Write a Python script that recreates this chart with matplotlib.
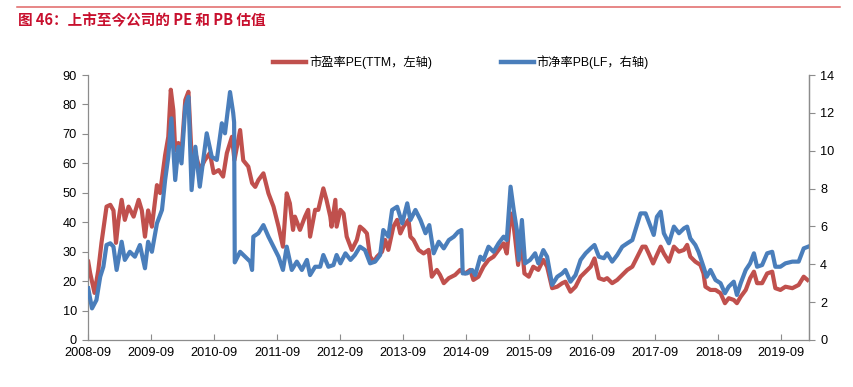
import matplotlib
matplotlib.use("Agg")
import matplotlib.pyplot as plt
from matplotlib.lines import Line2D
import pandas as pd

plt.rcParams['font.family'] = ['Liberation Sans', 'Noto Sans CJK SC', 'DejaVu Sans']

# 市盈率 PE(TTM) — 时间为小数年
pe_t = [2008.67, 2008.70, 2008.77, 2008.83, 2008.88, 2008.96, 2009.02, 2009.07, 2009.11, 2009.15,
        2009.20, 2009.25, 2009.31, 2009.39, 2009.47, 2009.52, 2009.57, 2009.62, 2009.68, 2009.76,
        2009.81, 2009.89, 2009.94, 2009.98, 2010.02, 2010.05, 2010.10, 2010.15, 2010.21, 2010.26,
        2010.31, 2010.37, 2010.44, 2010.52, 2010.60, 2010.66, 2010.74, 2010.81, 2010.87, 2010.95,
        2010.99, 2011.08, 2011.13, 2011.21, 2011.27, 2011.32, 2011.37, 2011.45, 2011.53, 2011.61,
        2011.69, 2011.76, 2011.82, 2011.87, 2011.92, 2011.95, 2012.03, 2012.11, 2012.16, 2012.19,
        2012.27, 2012.32, 2012.40, 2012.45, 2012.51, 2012.53, 2012.59, 2012.61, 2012.67, 2012.72,
        2012.77, 2012.85, 2012.93, 2012.98, 2013.04, 2013.09, 2013.14, 2013.20, 2013.25, 2013.33,
        2013.38, 2013.43, 2013.51, 2013.57, 2013.62, 2013.67, 2013.75, 2013.78, 2013.83, 2013.91,
        2013.99, 2014.07, 2014.12, 2014.20, 2014.25, 2014.31, 2014.39, 2014.49, 2014.57, 2014.65,
        2014.73, 2014.78, 2014.86, 2014.94, 2015.02, 2015.10, 2015.18, 2015.26, 2015.31, 2015.37,
        2015.40, 2015.44, 2015.49, 2015.54, 2015.59, 2015.66, 2015.73, 2015.81, 2015.89, 2015.95,
        2016.03, 2016.11, 2016.19, 2016.24, 2016.32, 2016.40, 2016.48, 2016.56, 2016.64, 2016.70,
        2016.77, 2016.85, 2016.90, 2016.98, 2017.06, 2017.14, 2017.22, 2017.30, 2017.38, 2017.46,
        2017.51, 2017.56, 2017.63, 2017.69, 2017.75, 2017.80, 2017.88, 2017.96, 2018.04, 2018.12,
        2018.17, 2018.22, 2018.30, 2018.38, 2018.43, 2018.46, 2018.54, 2018.62, 2018.70, 2018.77,
        2018.83, 2018.91, 2018.96, 2019.02, 2019.10, 2019.17, 2019.23, 2019.28, 2019.36, 2019.44,
        2019.52, 2019.57, 2019.65, 2019.73, 2019.84, 2019.94, 2020.02, 2020.08]
pe = [26.6, 22.8, 16.0, 23.8, 33.0, 45.3, 45.9, 44.0, 33.0, 40.8,
      47.6, 40.8, 45.3, 41.9, 47.6, 44.0, 35.1, 44.0, 38.5, 52.6,
      49.9, 62.8, 69.0, 85.0, 78.0, 64.5, 66.9, 63.5, 81.5, 84.3,
      62.3, 63.5, 57.7, 61.1, 63.5, 56.7, 57.7, 55.5, 63.5, 69.0,
      61.1, 71.3, 61.0, 58.9, 53.3, 52.0, 54.3, 56.6, 49.8, 45.3,
      38.5, 31.7, 49.8, 46.4, 37.4, 41.9, 37.4, 41.9, 44.2, 35.1,
      44.2, 44.2, 51.5, 47.6, 41.9, 38.5, 47.6, 38.5, 44.2, 43.0,
      35.1, 30.6, 34.0, 38.5, 37.4, 36.2, 28.3, 26.6, 28.3, 30.0,
      34.0, 30.6, 38.5, 40.8, 36.2, 38.5, 40.8, 35.1, 34.0, 30.6,
      29.4, 30.6, 21.5, 23.8, 22.1, 19.3, 21.0, 22.1, 23.8, 22.6,
      23.8, 20.4, 21.5, 24.9, 27.2, 28.3, 30.6, 32.8, 29.4, 43.0,
      41.9, 35.1, 25.5, 34.0, 22.6, 21.5, 24.9, 23.8, 27.2, 24.9,
      17.6, 18.1, 19.3, 19.8, 16.4, 18.1, 21.5, 23.2, 24.9, 27.7,
      21.0, 20.4, 21.0, 19.3, 20.4, 22.1, 23.8, 24.9, 28.3, 31.7,
      31.7, 29.4, 26.0, 28.9, 31.7, 29.4, 26.6, 31.7, 30.0, 30.6,
      32.3, 28.3, 26.6, 25.5, 22.6, 18.1, 17.0, 17.0, 15.9, 12.5,
      14.2, 13.6, 12.5, 14.7, 17.0, 21.0, 23.2, 19.3, 19.3, 22.6,
      23.2, 17.6, 17.0, 18.1, 17.6, 18.7, 21.5, 20.4]

# 市净率 PB(LF)
pb_t = [2008.67, 2008.73, 2008.80, 2008.86, 2008.91, 2008.96, 2009.02, 2009.07, 2009.12, 2009.20,
        2009.25, 2009.33, 2009.41, 2009.49, 2009.57, 2009.62, 2009.68, 2009.76, 2009.84, 2009.89,
        2009.94, 2009.99, 2010.05, 2010.10, 2010.15, 2010.21, 2010.26, 2010.31, 2010.37, 2010.44,
        2010.55, 2010.63, 2010.71, 2010.79, 2010.84, 2010.92, 2010.97, 2010.985, 2010.995, 2011.08,
        2011.16, 2011.24, 2011.27, 2011.29, 2011.37, 2011.45, 2011.53, 2011.61, 2011.69, 2011.76,
        2011.82, 2011.90, 2011.98, 2012.06, 2012.14, 2012.19, 2012.27, 2012.35, 2012.40, 2012.48,
        2012.56, 2012.61, 2012.67, 2012.75, 2012.83, 2012.90, 2012.98, 2013.06, 2013.14, 2013.22,
        2013.30, 2013.35, 2013.43, 2013.49, 2013.57, 2013.65, 2013.73, 2013.78, 2013.86, 2013.94,
        2014.02, 2014.08, 2014.15, 2014.23, 2014.31, 2014.39, 2014.47, 2014.54, 2014.59, 2014.61,
        2014.68, 2014.76, 2014.81, 2014.89, 2014.94, 2015.02, 2015.10, 2015.18, 2015.26, 2015.31,
        2015.37, 2015.42, 2015.47, 2015.50, 2015.55, 2015.60, 2015.68, 2015.76, 2015.81, 2015.89,
        2015.95, 2016.03, 2016.11, 2016.19, 2016.24, 2016.32, 2016.40, 2016.48, 2016.56, 2016.64,
        2016.70, 2016.77, 2016.85, 2016.90, 2016.98, 2017.06, 2017.14, 2017.22, 2017.30, 2017.38,
        2017.43, 2017.51, 2017.59, 2017.64, 2017.69, 2017.75, 2017.80, 2017.88, 2017.96, 2018.04,
        2018.12, 2018.17, 2018.22, 2018.30, 2018.35, 2018.43, 2018.48, 2018.54, 2018.62, 2018.70,
        2018.77, 2018.83, 2018.91, 2018.96, 2019.02, 2019.10, 2019.17, 2019.23, 2019.28, 2019.36,
        2019.44, 2019.52, 2019.57, 2019.65, 2019.73, 2019.84, 2019.94, 2020.02, 2020.09]
pb = [2.73, 1.67, 2.11, 3.34, 3.87, 5.02, 5.11, 4.93, 3.70, 5.19,
      4.23, 4.66, 4.40, 5.02, 3.79, 5.19, 4.66, 6.16, 6.87, 8.45,
      9.68, 11.71, 8.45, 10.21, 9.33, 12.32, 12.85, 7.92, 10.21, 8.10,
      10.92, 9.68, 9.51, 11.45, 10.92, 13.10, 12.00, 11.50, 4.10, 4.66,
      4.40, 4.14, 3.70, 5.46, 5.64, 6.07, 5.46, 4.93, 4.40, 3.70,
      4.93, 3.70, 4.14, 3.70, 4.23, 3.43, 3.87, 3.87, 4.49, 3.87,
      3.96, 4.49, 4.05, 4.58, 4.23, 4.49, 4.93, 4.75, 4.05, 4.14,
      4.49, 5.81, 5.46, 6.87, 7.04, 6.16, 7.22, 6.34, 6.87, 6.34,
      5.64, 6.07, 4.58, 5.19, 4.84, 5.28, 5.46, 5.72, 5.81, 3.52,
      3.52, 3.70, 3.43, 4.40, 4.23, 4.93, 4.66, 5.11, 5.46, 5.28,
      8.10, 6.87, 5.81, 4.23, 6.34, 4.05, 4.23, 4.58, 4.05, 4.75,
      4.40, 2.91, 3.34, 3.52, 3.70, 3.08, 3.43, 4.23, 4.58, 4.84,
      5.02, 4.40, 4.32, 4.58, 4.14, 4.49, 4.93, 5.11, 5.28, 6.16,
      6.69, 6.69, 5.99, 5.55, 6.51, 6.78, 5.64, 5.11, 5.99, 5.64,
      5.90, 5.99, 5.37, 5.02, 4.66, 3.87, 3.34, 3.70, 3.17, 3.00,
      2.47, 2.82, 3.08, 2.38, 3.00, 3.70, 4.05, 4.58, 3.87, 3.96,
      4.58, 4.66, 3.87, 3.87, 4.05, 4.14, 4.14, 4.84, 4.93]

tick_labels = ['2008-09', '2009-09', '2010-09', '2011-09', '2012-09', '2013-09',
               '2014-09', '2015-09', '2016-09', '2017-09', '2018-09', '2019-09']


def to_date(years):
    out = []
    for y in years:
        yr = int(y)
        start = pd.Timestamp(yr, 1, 1)
        end = pd.Timestamp(yr + 1, 1, 1)
        out.append(start + (end - start) * (y - yr))
    return out


red = '#C0504D'
blue = '#4A7EBB'
grey = '#8C8C8C'

fig = plt.figure(figsize=(8.54, 3.87), dpi=100)
ax = fig.add_axes([88 / 854, 1 - 340 / 387, (809 - 88) / 854, (340 - 75) / 387])
ax2 = ax.twinx()

ax.plot(to_date(pe_t), pe, color=red, lw=3.0, solid_joinstyle='round')
ax2.plot(to_date(pb_t), pb, color=blue, lw=3.0, solid_joinstyle='round')

ax.set_ylim(0, 90)
ax.set_yticks(range(0, 91, 10))
ax2.set_ylim(0, 14)
ax2.set_yticks(range(0, 15, 2))

ticks = [pd.Timestamp(t + '-01') for t in tick_labels]
ax.set_xlim(pd.Timestamp('2008-09-01'), pd.Timestamp('2020-02-08'))
ax.set_xticks(ticks)
ax.set_xticklabels(tick_labels)

for a in (ax, ax2):
    a.spines['top'].set_visible(False)
    for s in a.spines.values():
        s.set_color(grey)
        s.set_linewidth(0.9)
    a.tick_params(labelsize=9.2, colors=grey, labelcolor='black', length=4, width=0.8)
ax.tick_params(axis='x', direction='in', pad=5)
ax.tick_params(axis='y', direction='out', pad=4)
ax2.tick_params(axis='y', direction='out', pad=4)
ax2.spines['left'].set_visible(False)
ax2.spines['bottom'].set_visible(False)

handles = [Line2D([], [], color=red, lw=3.2), Line2D([], [], color=blue, lw=3.2)]
fig.legend(handles, ['市盈率PE(TTM，左轴)', '市净率PB(LF，右轴)'],
           loc='center', bbox_to_anchor=(461 / 854, 1 - 62 / 387), ncol=2,
           frameon=False, fontsize=8.8, handlelength=2.7, handletextpad=0.25,
           columnspacing=5.6)

fig.add_artist(Line2D([17 / 854, 840 / 854], [1 - 7 / 387, 1 - 7 / 387],
                      color='#E06666', lw=1.1))
fig.text(18 / 854, 1 - 20 / 387, '图 46：上市至今公司的 PE 和 PB 估值',
         color='#C8102E', fontsize=10.5, fontweight='bold', va='center', ha='left',
         family=['Noto Sans CJK SC', 'DejaVu Sans'])

plt.savefig('out.png', dpi=100)
